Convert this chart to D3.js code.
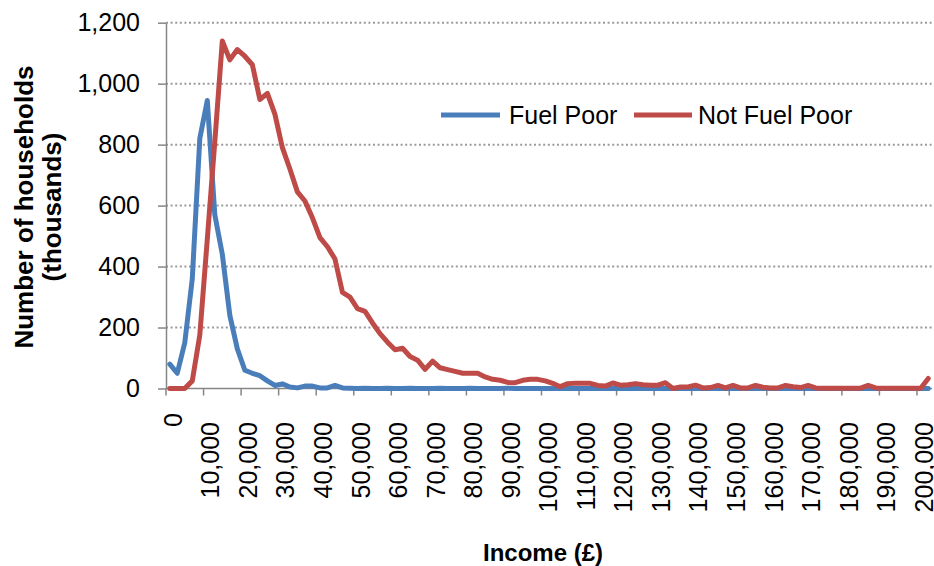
<!DOCTYPE html>
<html><head><meta charset="utf-8">
<script src="https://cdn.jsdelivr.net/npm/d3@7"></script>
<style>
html,body{margin:0;padding:0;background:#fff;}
svg{display:block;font-family:"Liberation Sans",Arial,sans-serif;}
</style></head>
<body><svg id="chart" width="934" height="566"></svg>
<script>
// Income bands (£2,000 steps) plus open-ended top band
const categories = d3.range(0, 200001, 2000).map(String).concat(["200,000+"]);
const seriesNames = ["Fuel Poor", "Not Fuel Poor"];
const fuelPoor = [80,50,150,360,820,945,570,440,240,130,60,50,42,25,10,15,5,2,8,8,2,2,10,2,
  1,0,1,0,0,1,0,0,1,0,0,0,1,0,0,0,1,0,0,0,0,1,0,0,0,0,0,0,0,0,0,0,0,0,0,0,0,0,0,0,0,0,0,0,0,0,
  0,0,0,0,0,0,0,0,0,0,0,0,0,0,0,0,0,0,0,0,0,0,0,0,0,0,0,0,0,0,0,0];
const notFuelPoor = [0,0,0,25,175,490,810,1140,1078,1112,1090,1062,948,968,900,790,720,645,615,560,
  495,465,425,315,300,262,253,215,180,152,127,132,105,93,63,90,68,62,56,50,50,50,38,30,27,20,19,27,
  30,30,25,17,6,16,17,17,17,10,8,18,11,12,16,12,11,11,19,0,5,5,11,2,3,10,2,10,2,2,10,4,2,2,10,6,3,
  10,2,1,1,1,1,1,1,10,2,1,1,1,1,1,1,33];
const yTicks = [0,200,400,600,800,1000,1200];
const xTickLabels = ["0","10,000","20,000","30,000","40,000","50,000","60,000","70,000","80,000",
  "90,000","100,000","110,000","120,000","130,000","140,000","150,000","160,000","170,000",
  "180,000","190,000","200,000"];
const colors = ["#4a7ebb", "#be4b48"];

const svg = d3.select("#chart");
const pL = 166, pR = 932, pT = 22.7, pB = 388.5;
const x = d3.scaleBand().domain(d3.range(categories.length)).range([pL, pR]);
const y = d3.scaleLinear().domain([0, 1200]).range([pB, pT]);
const axisColor = "#868686";

// gridlines
svg.append("g").selectAll("line").data(yTicks.filter(d => d > 0)).join("line")
  .attr("x1", pL).attr("x2", pR)
  .attr("y1", d => y(d)).attr("y2", d => y(d))
  .attr("stroke", "#9a9a9a").attr("stroke-width", 2).attr("stroke-dasharray", "2,2.6");

// y axis
const ya = svg.append("g").attr("transform", `translate(${pL},0)`)
  .call(d3.axisLeft(y).tickValues(yTicks).tickSize(8).tickSizeOuter(0).tickPadding(18).tickFormat(d3.format(",")));
ya.selectAll("path,line").attr("stroke", axisColor).attr("stroke-width", 1.5);
ya.selectAll("text").attr("font-size", 25).attr("fill", "#000")
  .attr("font-family", "Liberation Sans, Arial, sans-serif");

// x axis line and ticks at band boundaries every 5 categories
const tickIdx = d3.range(0, 101, 5);
svg.append("line").attr("x1", pL).attr("x2", pR).attr("y1", pB).attr("y2", pB)
  .attr("stroke", axisColor).attr("stroke-width", 1.5);
svg.append("g").selectAll("line").data(tickIdx).join("line")
  .attr("x1", d => x(d)).attr("x2", d => x(d))
  .attr("y1", pB).attr("y2", pB + 7)
  .attr("stroke", axisColor).attr("stroke-width", 1.5);
svg.append("g").selectAll("text").data(tickIdx).join("text")
  .attr("transform", (d, i) => {
    const cx = x(d) + x.bandwidth() / 2 + 3;
    const ty = i === 0 ? 413 : 422;
    return `translate(${cx},${ty}) rotate(-90)`;
  })
  .attr("text-anchor", "end").attr("dy", "0.36em")
  .attr("font-size", 25).attr("fill", "#000")
  .text((d, i) => xTickLabels[i]);

// lines
const line = d3.line().x((d, i) => x(i) + x.bandwidth() / 2).y(d => y(d));
[fuelPoor, notFuelPoor].forEach((s, k) => {
  svg.append("path").datum(s).attr("d", line).attr("fill", "none")
    .attr("stroke", colors[k]).attr("stroke-width", 5)
    .attr("stroke-linejoin", "round").attr("stroke-linecap", "round");
});

// legend
const legendPos = [{x1: 441, x2: 500, tx: 509}, {x1: 634, x2: 692, tx: 698}];
seriesNames.forEach((n, k) => {
  const p = legendPos[k];
  svg.append("line").attr("x1", p.x1).attr("x2", p.x2).attr("y1", 115).attr("y2", 115)
    .attr("stroke", colors[k]).attr("stroke-width", 5);
  svg.append("text").attr("x", p.tx).attr("y", 115).attr("dy", "0.36em")
    .attr("font-size", 25).attr("fill", "#000").text(n);
});

// axis titles
const yt = svg.append("text").attr("transform", "translate(0,207) rotate(-90)")
  .attr("text-anchor", "middle").attr("font-size", 26).attr("font-weight", "bold");
yt.append("tspan").attr("x", 0).attr("y", 33).text("Number of households");
yt.append("tspan").attr("x", 0).attr("y", 61).text("(thousands)");
svg.append("text").attr("x", 543).attr("y", 561).attr("text-anchor", "middle")
  .attr("font-size", 24).attr("font-weight", "bold").text("Income (£)");
</script></body></html>
